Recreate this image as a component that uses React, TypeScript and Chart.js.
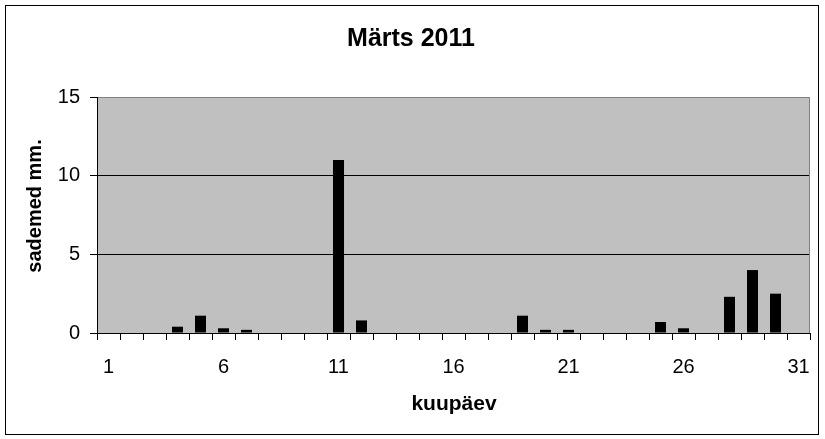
import React, { useEffect, useRef } from 'react';
import Chart from 'chart.js/auto';

const days: string[] = [
  '1', '2', '3', '4', '5', '6', '7', '8', '9', '10',
  '11', '12', '13', '14', '15', '16', '17', '18', '19', '20',
  '21', '22', '23', '24', '25', '26', '27', '28', '29', '30', '31',
];

// sademed mm. (precipitation per day)
const precipitation: number[] = [
  0, 0, 0, 0.4, 1.1, 0.3, 0.2, 0, 0, 0,
  11.0, 0.8, 0, 0, 0, 0, 0, 0, 1.1, 0.2,
  0.2, 0, 0, 0, 0.7, 0.3, 0, 2.3, 4.0, 2.5, 0,
];

const yTicks: number[] = [0, 5, 10, 15];

const chartTitle = 'Märts 2011';
const xTitle = 'kuupäev';
const yTitle = 'sademed mm.';

const FONT = "'Liberation Sans', Arial, sans-serif";

const framePlugin = {
  id: 'frame',
  beforeDraw(chart: any) {
    const { ctx, chartArea } = chart;
    ctx.save();
    ctx.fillStyle = '#C0C0C0';
    ctx.fillRect(chartArea.left, chartArea.top, chartArea.right - chartArea.left, chartArea.bottom - chartArea.top);
    ctx.restore();
  },
  beforeDatasetsDraw(chart: any) {
    const { ctx, chartArea } = chart;
    ctx.save();
    ctx.strokeStyle = '#808080';
    ctx.lineWidth = 1;
    ctx.beginPath();
    ctx.moveTo(Math.round(chartArea.right) - 0.5, chartArea.top);
    ctx.lineTo(Math.round(chartArea.right) - 0.5, chartArea.bottom);
    ctx.stroke();
    ctx.restore();
  },
  afterDraw(chart: any) {
    const { ctx } = chart;
    ctx.save();
    // outer border
    ctx.strokeStyle = '#000';
    ctx.lineWidth = 1;
    ctx.strokeRect(5.5, 5.5, 813, 429);

    ctx.fillStyle = '#000';
    ctx.textAlign = 'center';
    ctx.textBaseline = 'alphabetic';
    ctx.font = `bold 25px ${FONT}`;
    ctx.fillText(chartTitle, 411, 46);

    ctx.font = `bold 21px ${FONT}`;
    ctx.fillText(xTitle, 454, 410);

    ctx.translate(41, 206);
    ctx.rotate(-Math.PI / 2);
    ctx.font = `bold 20px ${FONT}`;
    ctx.fillText(yTitle, 0, 0);
    ctx.restore();
  },
};

const App: React.FC = () => {
  const chartRef = useRef<HTMLCanvasElement | null>(null);
  const chartInstance = useRef<Chart | null>(null);

  useEffect(() => {
    document.body.style.margin = '0';
    if (!chartRef.current) return;

    if (chartInstance.current) {
      chartInstance.current.destroy();
    }

    chartInstance.current = new Chart(chartRef.current, {
      type: 'bar',
      data: {
        labels: days,
        datasets: [
          {
            label: yTitle,
            data: precipitation,
            backgroundColor: '#000',
            borderWidth: 0,
            categoryPercentage: 1,
            barPercentage: 0.48,
          },
        ],
      },
      options: {
        responsive: false,
        animation: false,
        layout: {
          padding: { top: 97, left: 0, right: 15, bottom: 0 },
        },
        plugins: {
          legend: { display: false },
          title: { display: false },
          tooltip: { enabled: false },
        },
        scales: {
          x: {
            type: 'category',
            offset: true,
            afterFit: (scale: any) => {
              scale.height = 106;
            },
            grid: {
              offset: true,
              drawOnChartArea: false,
              drawTicks: true,
              tickLength: 7,
              color: '#000',
            },
            border: { display: true, color: '#000' },
            ticks: {
              autoSkip: false,
              maxRotation: 0,
              minRotation: 0,
              padding: 15,
              color: '#000',
              font: { family: FONT, size: 20 },
              callback: (_v: any, i: number) => (i % 5 === 0 ? days[i] : ''),
            },
          },
          y: {
            min: yTicks[0],
            max: yTicks[yTicks.length - 1],
            afterFit: (scale: any) => {
              scale.width = 97;
            },
            afterBuildTicks: (scale: any) => {
              scale.ticks = yTicks.map((v) => ({ value: v }));
            },
            grid: {
              color: (c: any) => (c.tick && c.tick.value === 15 ? '#808080' : '#000'),
              tickColor: '#000',
              tickLength: 7,
            },
            border: { display: true, color: '#000' },
            ticks: {
              padding: 10,
              color: '#000',
              font: { family: FONT, size: 20 },
            },
          },
        },
      },
      plugins: [framePlugin],
    });

    return () => {
      if (chartInstance.current) {
        chartInstance.current.destroy();
        chartInstance.current = null;
      }
    };
  }, []);

  return (
    <div style={{ width: 825, height: 439, background: '#fff' }}>
      <canvas ref={chartRef} width={825} height={439} style={{ display: 'block' }}></canvas>
    </div>
  );
};

export default App;
